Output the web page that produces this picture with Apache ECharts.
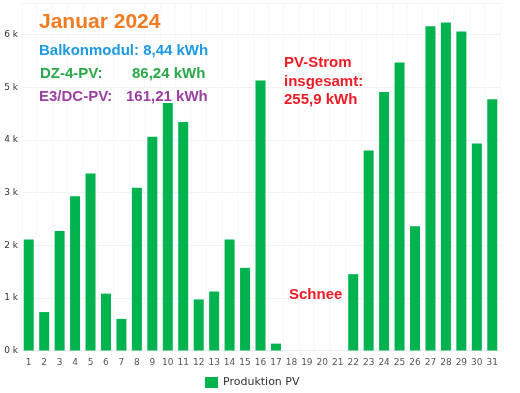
<!DOCTYPE html>
<html>
<head>
<meta charset="utf-8">
<script src="https://cdn.jsdelivr.net/npm/echarts@6/dist/echarts.min.js"></script>
<style>html,body{margin:0;padding:0;background:#fff}#c{width:520px;height:393px}</style>
</head>
<body>
<div id="c"></div>
<script>
const days = ['1','2','3','4','5','6','7','8','9','10','11','12','13','14','15','16','17','18','19','20','21','22','23','24','25','26','27','28','29','30','31'];
const produktion = [2110,730,2270,2930,3360,1080,600,3090,4060,4700,4340,970,1120,2110,1570,5130,130,0,0,0,0,1450,3800,4910,5470,2360,6160,6230,6060,3930,4770];
const yTicks = [0,1000,2000,3000,4000,5000,6000];
const seriesName = 'Produktion PV';

const chart = echarts.init(document.getElementById('c'), null, {renderer:'canvas'});
const F = 'Liberation Sans, Arial, sans-serif';
const T = (left, top, text, fill, size, extra) => Object.assign({type:'text', left, top, z:100, zlevel:0,
  style:{text, font:'bold '+size+'px '+F, fill}}, extra || {});
chart.setOption({
  animation:false,
  grid:{left:21, right:20, top:3, bottom:42.5},
  legend:{
    data:[seriesName], left:200, top:372, itemWidth:13, itemHeight:11, itemGap:5,
    icon:'rect',
    textStyle:{fontSize:11, color:'#333', fontFamily:'DejaVu Sans, sans-serif'}
  },
  xAxis:{
    type:'category', data:days,
    axisLine:{show:true, lineStyle:{color:'#e8edf2'}},
    axisTick:{show:false},
    axisLabel:{fontSize:9, color:'#555', margin:8, interval:0, fontFamily:'DejaVu Sans, sans-serif'},
    splitLine:{show:true, interval:0, lineStyle:{color:'#f6f8fa'}}
  },
  yAxis:{
    type:'value', min:0, max:6600, interval:1000,
    axisLine:{show:false}, axisTick:{show:false},
    axisLabel:{fontSize:9, color:'#333', margin:3, fontFamily:'DejaVu Sans, sans-serif',
      formatter:v => yTicks.indexOf(v) >= 0 ? (v/1000)+' k' : ''},
    splitLine:{lineStyle:{color:'#eef3f8'}}
  },
  series:[{
    name:seriesName, type:'bar', data:produktion, barWidth:10,
    itemStyle:{color:'#00b34f'}
  }],
  graphic:{elements:[
    T(39, 12, 'Januar 2024', '#f27a21', 21),
    T(39, 43, 'Balkonmodul: 8,44 kWh', '#1c9be2', 15),
    T(40, 66, 'DZ-4-PV:', '#2aa84a', 15),
    T(132, 66, '86,24 kWh', '#2aa84a', 15),
    T(39, 89, 'E3/DC-PV:', '#9c3fa2', 15),
    T(126, 89, '161,21 kWh', '#9c3fa2', 15),
    {type:'text', left:284, top:54, z:100, style:{text:'PV-Strom\ninsgesamt:\n255,9 kWh', font:'bold 15px '+F, fill:'#ee1c25', lineHeight:18.3}},
    T(289, 287, 'Schnee', '#ee1c25', 15)
  ]}
});
</script>
</body>
</html>
